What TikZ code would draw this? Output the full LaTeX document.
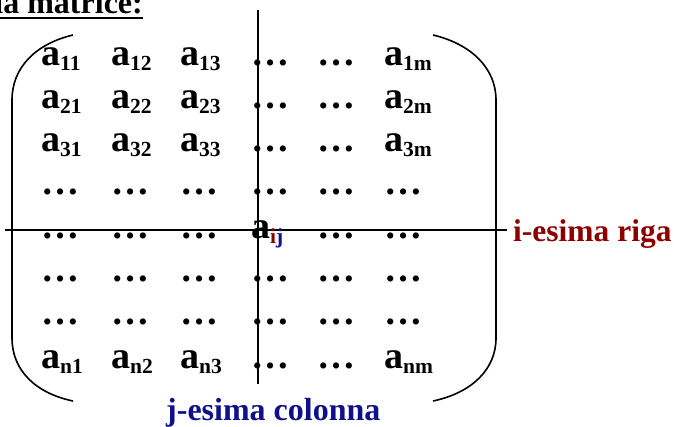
\documentclass[tikz,border=0pt]{standalone}
\usepackage{fontspec}
\setmainfont{Liberation Serif}
\definecolor{rigared}{RGB}{140,0,0}
\definecolor{colblue}{RGB}{16,16,140}
\newcommand{\melem}[1]{\fontsize{38}{38}\selectfont a\raisebox{-5pt}{\fontsize{21.5}{21.5}\selectfont #1}}
\newcommand{\mdots}{\fontsize{38}{38}\selectfont …}
\begin{document}
\begin{tikzpicture}[x=1pt,y=-1pt,
  ent/.style={anchor=base west,inner sep=0pt,font=\bfseries},
  axis/.style={line width=1.5pt,black},
  brk/.style={line width=1.6pt,black},
  lbl/.style={anchor=base west,inner sep=0pt,font=\bfseries\fontsize{31.5}{31.5}\selectfont}]
\useasboundingbox (0,0) rectangle (674,426);
\clip (0,0) rectangle (674,426);
% title
\node[anchor=base east,inner sep=0pt,font=\bfseries\fontsize{32}{32}\selectfont] (title) at (143,13) {la matrice:};
\draw[line width=2.2pt] (title.south west |- 0,18) -- (143,18);
% lines
\coordinate (vt) at (258,10);
\coordinate (vb) at (258,384);
\coordinate (hl) at (5,230);
\coordinate (hr) at (507,230);
\draw[axis] (vt) -- (vb);
\draw[axis] (hl) -- (hr);
% brackets
\draw[brk] (73,35) .. controls (35,44) and (12,68) .. (12,100) -- (12,338) .. controls (12,370) and (35,393) .. (73,401);
\draw[brk] (433,35) .. controls (471,44) and (496,68) .. (496,100) -- (496,338) .. controls (496,370) and (471,393) .. (433,401);
% row 1
\node[ent] (a11) at (41,65) {\melem{11}};
\node[ent] (a12) at (111,65) {\melem{12}};
\node[ent] (a13) at (180,65) {\melem{13}};
\node[ent] (d14) at (251,65) {\mdots};
\node[ent] (d15) at (317,65) {\mdots};
\node[ent] (a1m) at (384,65) {\melem{1m}};
% row 2
\node[ent] (a21) at (41,108.3) {\melem{21}};
\node[ent] (a22) at (111,108.3) {\melem{22}};
\node[ent] (a23) at (180,108.3) {\melem{23}};
\node[ent] (d24) at (251,108.3) {\mdots};
\node[ent] (d25) at (317,108.3) {\mdots};
\node[ent] (a2m) at (384,108.3) {\melem{2m}};
% row 3
\node[ent] (a31) at (41,151.6) {\melem{31}};
\node[ent] (a32) at (111,151.6) {\melem{32}};
\node[ent] (a33) at (180,151.6) {\melem{33}};
\node[ent] (d34) at (251,151.6) {\mdots};
\node[ent] (d35) at (317,151.6) {\mdots};
\node[ent] (a3m) at (384,151.6) {\melem{3m}};
% row 4
\node[ent] (d41) at (41,194.9) {\mdots};
\node[ent] (d42) at (111,194.9) {\mdots};
\node[ent] (d43) at (180,194.9) {\mdots};
\node[ent] (d44) at (251,194.9) {\mdots};
\node[ent] (d45) at (317,194.9) {\mdots};
\node[ent] (d46) at (384,194.9) {\mdots};
% row 5
\node[ent] (d51) at (41,238.2) {\mdots};
\node[ent] (d52) at (111,238.2) {\mdots};
\node[ent] (d53) at (180,238.2) {\mdots};
\node[ent] (aij) at (251,238.2) {\fontsize{38}{38}\selectfont a\raisebox{-5pt}{\fontsize{21.5}{21.5}\selectfont\textcolor{rigared}{i}\textcolor{colblue}{j}}};
\node[ent] (d55) at (317,238.2) {\mdots};
\node[ent] (d56) at (384,238.2) {\mdots};
% row 6
\node[ent] (d61) at (41,281.5) {\mdots};
\node[ent] (d62) at (111,281.5) {\mdots};
\node[ent] (d63) at (180,281.5) {\mdots};
\node[ent] (d64) at (251,281.5) {\mdots};
\node[ent] (d65) at (317,281.5) {\mdots};
\node[ent] (d66) at (384,281.5) {\mdots};
% row 7
\node[ent] (d71) at (41,324.8) {\mdots};
\node[ent] (d72) at (111,324.8) {\mdots};
\node[ent] (d73) at (180,324.8) {\mdots};
\node[ent] (d74) at (251,324.8) {\mdots};
\node[ent] (d75) at (317,324.8) {\mdots};
\node[ent] (d76) at (384,324.8) {\mdots};
% row 8
\node[ent] (an1) at (41,368) {\melem{n1}};
\node[ent] (an2) at (111,368) {\melem{n2}};
\node[ent] (an3) at (180,368) {\melem{n3}};
\node[ent] (d84) at (251,368) {\mdots};
\node[ent] (d85) at (317,368) {\mdots};
\node[ent] (anm) at (384,368) {\melem{nm}};
% labels
\node[lbl,text=rigared] (riga) at (513,241) {i-esima riga};
\node[lbl,text=colblue,font=\bfseries\fontsize{32}{32}\selectfont] (colonna) at (166,420) {j-esima colonna};
\end{tikzpicture}
\end{document}
